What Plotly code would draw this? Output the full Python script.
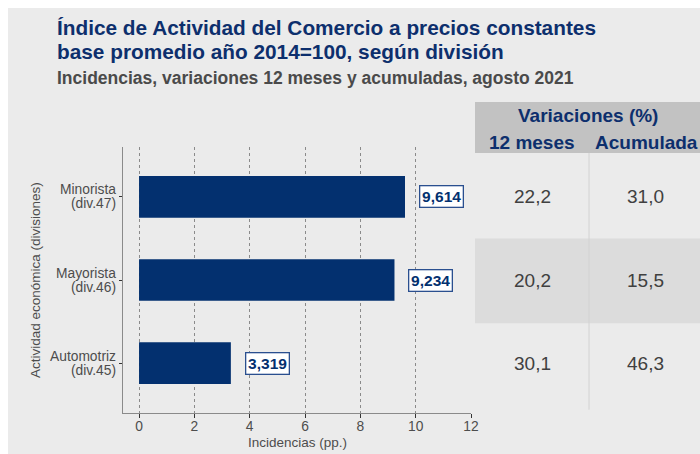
import plotly.graph_objects as go

# ---------------- data ----------------
categories = ["Automotriz<br>(div.45)", "Mayorista<br>(div.46)", "Minorista<br>(div.47)"]
incidencias = [3.319, 9.234, 9.614]
var_12_meses = [30.1, 20.2, 22.2]
var_acumulada = [46.3, 15.5, 31.0]
x_ticks = [0, 2, 4, 6, 8, 10, 12]

title_l1 = "Índice de Actividad del Comercio a precios constantes"
title_l2 = "base promedio año 2014=100, según división"
subtitle = "Incidencias, variaciones 12 meses y acumuladas, agosto 2021"
header_main = "Variaciones (%)"
header_cols = ["12 meses", "Acumulada"]
x_title = "Incidencias (pp.)"
y_title = "Actividad económica (divisiones)"

# ---------------- styles ----------------
W, H = 700, 454
PL, PR, PT, PB = 123, 471, 147, 413   # plot area in pixels
XR = [-0.58, 12]
YR = [-0.6, 2.6]
NAVY = "#03306f"
FONT = "Liberation Sans, Arial, sans-serif"
GREY_TXT = "#4d4d4d"


def fx(px):
    return (px - PL) / (PR - PL)


def fy(py):
    return (PB - py) / (PB - PT)


def fy_data(v):
    return (v - YR[0]) / (YR[1] - YR[0])


def fmt(v, nd):
    return f"{v:.{nd}f}".replace(".", ",")


fig = go.Figure()
fig.add_trace(go.Bar(
    x=incidencias, y=categories, orientation="h",
    marker=dict(color=NAVY, line=dict(width=0)),
    width=0.5, hoverinfo="skip",
))

shapes = []
# background
shapes.append(dict(type="rect", xref="paper", yref="paper", layer="below",
                   x0=fx(8), x1=fx(W + 5), y0=fy(8), y1=fy(H + 5),
                   fillcolor="#ebebeb", line=dict(width=0)))
# table header
shapes.append(dict(type="rect", xref="paper", yref="paper", layer="below",
                   x0=fx(475), x1=fx(W + 5), y0=fy(102), y1=fy(153),
                   fillcolor="#c2c2c2", line=dict(width=0)))
# shaded middle row
shapes.append(dict(type="rect", xref="paper", yref="paper", layer="below",
                   x0=fx(475), x1=fx(W + 5), y0=fy_data(0.48), y1=fy_data(1.5),
                   fillcolor="#dcdcdc", line=dict(width=0)))
# column separator
shapes.append(dict(type="line", xref="paper", yref="paper", layer="below",
                   x0=fx(589), x1=fx(589), y0=fy_data(-0.56), y1=fy(153),
                   line=dict(color="#d2d2d2", width=1)))

ann = []
# titles
ann.append(dict(text=f"<b>{title_l1}</b>", xref="paper", yref="paper",
                x=fx(55), y=fy(27), xanchor="left", yanchor="middle", showarrow=False,
                font=dict(family=FONT, size=20.8, color="#0d2f6d")))
ann.append(dict(text=f"<b>{title_l2}</b>", xref="paper", yref="paper",
                x=fx(55), y=fy(52), xanchor="left", yanchor="middle", showarrow=False,
                font=dict(family=FONT, size=20.8, color="#0d2f6d")))
ann.append(dict(text=f"<b>{subtitle}</b>", xref="paper", yref="paper",
                x=fx(55), y=fy(78), xanchor="left", yanchor="middle", showarrow=False,
                font=dict(family=FONT, size=17.5, color="#4a4a4a")))
# axis titles
ann.append(dict(text=x_title, xref="paper", yref="paper",
                x=0.5, y=fy(442), xanchor="center", yanchor="middle", showarrow=False,
                font=dict(family=FONT, size=13.5, color=GREY_TXT)))
ann.append(dict(text=y_title, xref="paper", yref="paper", textangle=-90,
                x=fx(35), y=fy_data(1), xanchor="center", yanchor="middle", showarrow=False,
                font=dict(family=FONT, size=13.5, color=GREY_TXT)))
# y tick labels (two tight lines each)
for c in categories:
    for k, part in enumerate(c.split("<br>")):
        ann.append(dict(text=part, x=fx(118), y=c, xref="paper", yref="y",
                        xanchor="right", yanchor="middle", yshift=7 - 14 * k, showarrow=False,
                        font=dict(family=FONT, size=13.8, color=GREY_TXT)))
# data labels
for c, v in zip(categories, incidencias):
    ann.append(dict(text=f"<b>{fmt(v, 3)}</b>", x=v, y=c, xref="x", yref="y",
                    xanchor="left", yanchor="middle", xshift=14, showarrow=False,
                    bgcolor="white", bordercolor="#2a4f8f", borderwidth=1.3, borderpad=1.8,
                    font=dict(family=FONT, size=15.5, color=NAVY)))
# table header text
ann.append(dict(text=f"<b>{header_main}</b>", xref="paper", yref="paper",
                x=fx(588), y=fy(115), xanchor="center", yanchor="middle", showarrow=False,
                font=dict(family=FONT, size=19, color="#0d2f6d")))
for hx, htxt in zip([532, 646], header_cols):
    ann.append(dict(text=f"<b>{htxt}</b>", xref="paper", yref="paper",
                    x=fx(hx), y=fy(142), xanchor="center", yanchor="middle", showarrow=False,
                    font=dict(family=FONT, size=19, color="#0d2f6d")))
# table values
for i, (a, b) in enumerate(zip(var_12_meses, var_acumulada)):
    for cx, val in zip([532, 645], [a, b]):
        ann.append(dict(text=fmt(val, 1), xref="paper", yref="paper",
                        x=fx(cx), y=fy_data(i), xanchor="center", yanchor="middle", showarrow=False,
                        font=dict(family=FONT, size=19, color="#404040")))

fig.update_layout(
    width=W, height=H,
    margin=dict(l=PL, r=W - PR, t=PT, b=H - PB, pad=0),
    paper_bgcolor="white", plot_bgcolor="rgba(0,0,0,0)",
    showlegend=False, bargap=0.5,
    shapes=shapes, annotations=ann,
    font=dict(family=FONT, size=13.5, color=GREY_TXT),
    xaxis=dict(range=XR, tickvals=x_ticks, ticktext=[str(t) for t in x_ticks],
               showgrid=True, gridcolor="#8a8a8a", griddash="dot", gridwidth=1,
               zeroline=False, showline=True, linecolor="#8a8a8a", linewidth=1,
               ticks="outside", ticklen=4, tickcolor="#333333", tickwidth=1,
               ticklabelstandoff=-4,
               tickfont=dict(family=FONT, size=13.8, color=GREY_TXT), fixedrange=True),
    yaxis=dict(range=YR, type="category", categoryorder="array", categoryarray=categories,
               showgrid=False, zeroline=False, showline=True, linecolor="#8a8a8a", linewidth=1,
               ticks="outside", ticklen=3, tickcolor="#333333", tickwidth=1,
               showticklabels=False, fixedrange=True),
)

fig.write_html("out.html")
